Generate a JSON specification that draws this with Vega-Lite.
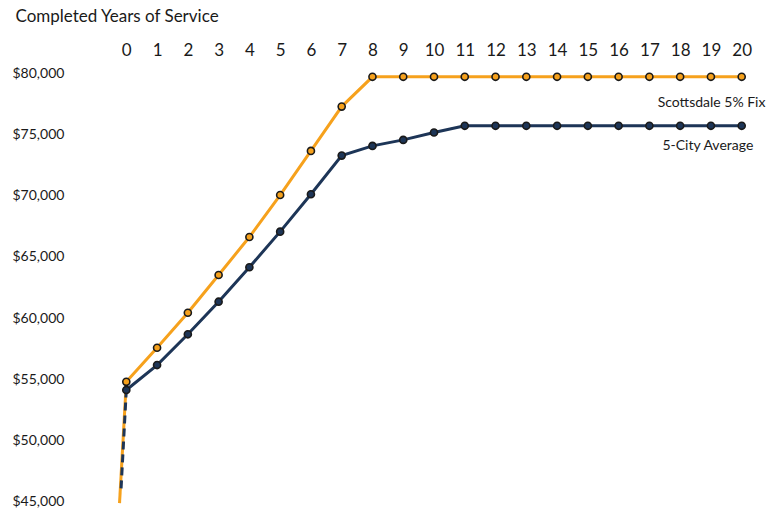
{
  "$schema": "https://vega.github.io/schema/vega-lite/v6.json",
  "width": 640,
  "height": 441,
  "autosize": {"type": "none"},
  "padding": {"left": 114, "top": 67, "right": 18, "bottom": 9},
  "background": "white",
  "config": {"view": {"stroke": null}, "font": "Lato"},
  "datasets": {
    "salary": [
      {"year": 0, "series": "Scottsdale 5% Fix", "value": 54800},
      {"year": 1, "series": "Scottsdale 5% Fix", "value": 57580},
      {"year": 2, "series": "Scottsdale 5% Fix", "value": 60440},
      {"year": 3, "series": "Scottsdale 5% Fix", "value": 63520},
      {"year": 4, "series": "Scottsdale 5% Fix", "value": 66620},
      {"year": 5, "series": "Scottsdale 5% Fix", "value": 70050},
      {"year": 6, "series": "Scottsdale 5% Fix", "value": 73650},
      {"year": 7, "series": "Scottsdale 5% Fix", "value": 77270},
      {"year": 8, "series": "Scottsdale 5% Fix", "value": 79700},
      {"year": 9, "series": "Scottsdale 5% Fix", "value": 79700},
      {"year": 10, "series": "Scottsdale 5% Fix", "value": 79700},
      {"year": 11, "series": "Scottsdale 5% Fix", "value": 79700},
      {"year": 12, "series": "Scottsdale 5% Fix", "value": 79700},
      {"year": 13, "series": "Scottsdale 5% Fix", "value": 79700},
      {"year": 14, "series": "Scottsdale 5% Fix", "value": 79700},
      {"year": 15, "series": "Scottsdale 5% Fix", "value": 79700},
      {"year": 16, "series": "Scottsdale 5% Fix", "value": 79700},
      {"year": 17, "series": "Scottsdale 5% Fix", "value": 79700},
      {"year": 18, "series": "Scottsdale 5% Fix", "value": 79700},
      {"year": 19, "series": "Scottsdale 5% Fix", "value": 79700},
      {"year": 20, "series": "Scottsdale 5% Fix", "value": 79700},
      {"year": 0, "series": "5-City Average", "value": 54130},
      {"year": 1, "series": "5-City Average", "value": 56170},
      {"year": 2, "series": "5-City Average", "value": 58680},
      {"year": 3, "series": "5-City Average", "value": 61340},
      {"year": 4, "series": "5-City Average", "value": 64150},
      {"year": 5, "series": "5-City Average", "value": 67060},
      {"year": 6, "series": "5-City Average", "value": 70110},
      {"year": 7, "series": "5-City Average", "value": 73270},
      {"year": 8, "series": "5-City Average", "value": 74060},
      {"year": 9, "series": "5-City Average", "value": 74550},
      {"year": 10, "series": "5-City Average", "value": 75150},
      {"year": 11, "series": "5-City Average", "value": 75700},
      {"year": 12, "series": "5-City Average", "value": 75700},
      {"year": 13, "series": "5-City Average", "value": 75700},
      {"year": 14, "series": "5-City Average", "value": 75700},
      {"year": 15, "series": "5-City Average", "value": 75700},
      {"year": 16, "series": "5-City Average", "value": 75700},
      {"year": 17, "series": "5-City Average", "value": 75700},
      {"year": 18, "series": "5-City Average", "value": 75700},
      {"year": 19, "series": "5-City Average", "value": 75700},
      {"year": 20, "series": "5-City Average", "value": 75700}
    ],
    "lead": [
      {"year": -0.22, "series": "Scottsdale 5% Fix", "value": 44900},
      {"year": 0, "series": "Scottsdale 5% Fix", "value": 54800},
      {"year": -0.17, "series": "5-City Average", "value": 46100},
      {"year": 0, "series": "5-City Average", "value": 54130}
    ],
    "labels": [
      {"year": 19.02, "value": 77550, "label": "Scottsdale 5% Fix"},
      {"year": 18.9, "value": 74060, "label": "5-City Average"}
    ]
  },
  "encoding": {
    "x": {
      "field": "year",
      "type": "quantitative",
      "scale": {"domain": [-0.4, 20.4], "nice": false, "zero": false},
      "axis": {
        "orient": "top",
        "values": [0, 1, 2, 3, 4, 5, 6, 7, 8, 9, 10, 11, 12, 13, 14, 15, 16, 17, 18, 19, 20],
        "format": "d",
        "grid": false,
        "domain": false,
        "ticks": false,
        "tickSize": 0,
        "labelFontSize": 17,
        "labelColor": "#1a1a1a",
        "labelPadding": 12,
        "labelBaseline": "alphabetic",
        "labelFlush": false,
        "title": "Completed Years of Service",
        "titleFontSize": 17,
        "titleFontWeight": "normal",
        "titleColor": "#1a1a1a",
        "titleAnchor": "start",
        "titleAlign": "left",
        "titleBaseline": "alphabetic",
        "titleX": -99,
        "titleY": -46
      }
    },
    "y": {
      "field": "value",
      "type": "quantitative",
      "scale": {"domain": [44500, 80500], "nice": false, "zero": false},
      "axis": {
        "values": [45000, 50000, 55000, 60000, 65000, 70000, 75000, 80000],
        "format": "$,.0f",
        "grid": false,
        "domain": false,
        "ticks": false,
        "tickSize": 0,
        "labelAlign": "left",
        "labelPadding": 102,
        "labelFontSize": 14,
        "labelColor": "#1a1a1a",
        "labelBaseline": "middle",
        "title": null
      }
    }
  },
  "layer": [
    {
      "data": {"name": "lead"},
      "transform": [{"filter": "datum.series === 'Scottsdale 5% Fix'"}],
      "mark": {"type": "line", "color": "#F6A11C", "strokeWidth": 3}
    },
    {
      "data": {"name": "lead"},
      "transform": [{"filter": "datum.series === '5-City Average'"}],
      "mark": {"type": "line", "color": "#1D3557", "strokeWidth": 3, "strokeDash": [8, 5]}
    },
    {
      "data": {"name": "salary"},
      "mark": {"type": "line", "strokeWidth": 3},
      "encoding": {
        "color": {
          "field": "series",
          "type": "nominal",
          "scale": {"domain": ["Scottsdale 5% Fix", "5-City Average"], "range": ["#F6A11C", "#1D3557"]},
          "legend": null
        }
      }
    },
    {
      "data": {"name": "salary"},
      "mark": {"type": "point", "filled": true, "stroke": "#1a1a1a", "strokeWidth": 1.6, "size": 50, "opacity": 1},
      "encoding": {
        "fill": {
          "field": "series",
          "type": "nominal",
          "scale": {"domain": ["Scottsdale 5% Fix", "5-City Average"], "range": ["#F6A11C", "#1D3557"]},
          "legend": null
        }
      }
    },
    {
      "data": {"name": "labels"},
      "mark": {"type": "text", "fontSize": 14, "color": "#1a1a1a", "align": "center", "baseline": "middle"},
      "encoding": {"text": {"field": "label", "type": "nominal"}}
    }
  ]
}
